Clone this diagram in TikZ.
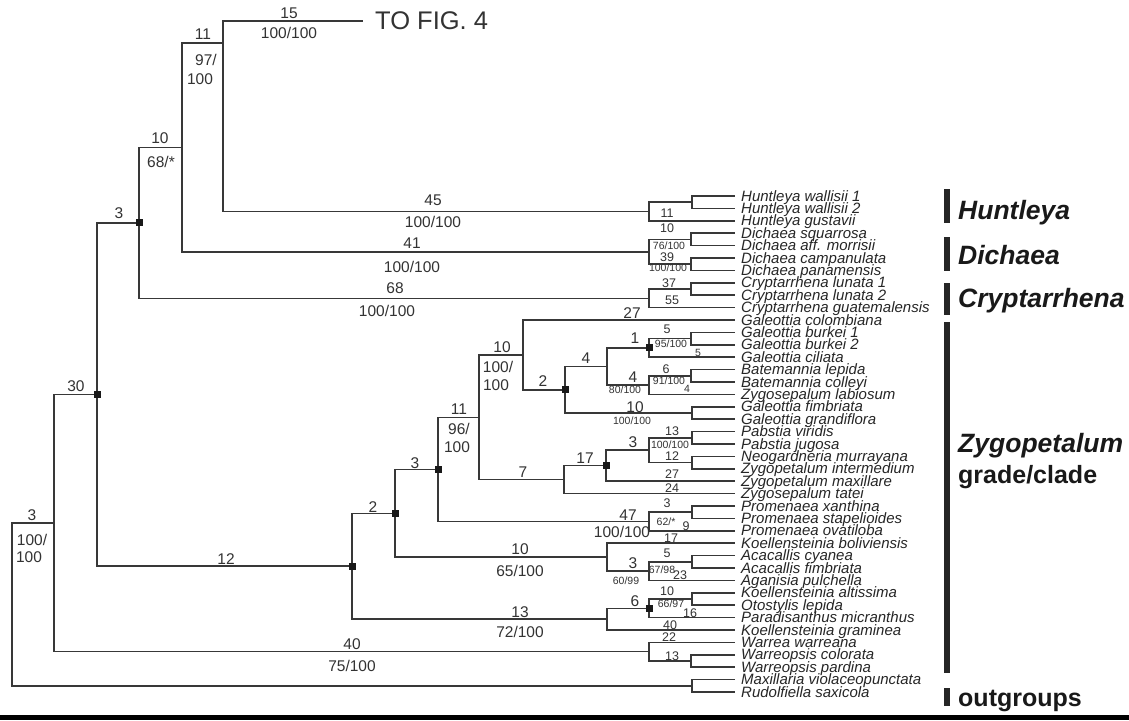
\documentclass[tikz,border=0pt]{standalone}
\usepackage{fontspec}
\setmainfont{Liberation Sans}
\usetikzlibrary{calc}
\tikzset{
  br/.style={line width=1.5pt, draw=black!78},
  tx/.style={font=\fontsize{15}{15}\selectfont\itshape, text=black!85, anchor=base west, inner sep=0pt},
  lb/.style={font=\fontsize{15.5}{15.5}\selectfont, text=black!80, inner sep=0pt},
  lm/.style={font=\fontsize{12.5}{12.5}\selectfont, text=black!80, inner sep=0pt},
  ls/.style={font=\fontsize{10.5}{10.5}\selectfont, text=black!80, inner sep=0pt},
  sq/.style={fill=black!90, minimum size=7pt, inner sep=0pt},
  grpi/.style={font=\fontsize{26.5}{26.5}\selectfont\bfseries\itshape, text=black!90, anchor=base west, inner sep=0pt},
  grpu/.style={font=\fontsize{25}{25}\selectfont\bfseries, text=black!90, anchor=base west, inner sep=0pt},
  barfill/.style={fill=black!85},
}
\begin{document}
\begin{tikzpicture}[x=1pt,y=-1pt]
\useasboundingbox (0,0) rectangle (1129,720);
\fill[white] (0,0) rectangle (1129,720);

% taxa
\foreach \i/\nm in {1/Huntleya wallisii 1,2/Huntleya wallisii 2,3/Huntleya gustavii,4/Dichaea squarrosa,5/Dichaea aff. morrisii,6/Dichaea campanulata,7/Dichaea panamensis,8/Cryptarrhena lunata 1,9/Cryptarrhena lunata 2,10/Cryptarrhena guatemalensis,11/Galeottia colombiana,12/Galeottia burkei 1,13/Galeottia burkei 2,14/Galeottia ciliata,15/Batemannia lepida,16/Batemannia colleyi,17/Zygosepalum labiosum,18/Galeottia fimbriata,19/Galeottia grandiflora,20/Pabstia viridis,21/Pabstia jugosa,22/Neogardneria murrayana,23/Zygopetalum intermedium,24/Zygopetalum maxillare,25/Zygosepalum tatei,26/Promenaea xanthina,27/Promenaea stapelioides,28/Promenaea ovatiloba,29/Koellensteinia boliviensis,30/Acacallis cyanea,31/Acacallis fimbriata,32/Aganisia pulchella,33/Koellensteinia altissima,34/Otostylis lepida,35/Paradisanthus micranthus,36/Koellensteinia graminea,37/Warrea warreana,38/Warreopsis colorata,39/Warreopsis pardina,40/Maxillaria violaceopunctata,41/Rudolfiella saxicola}{
  \pgfmathsetmacro\yy{196+12.4*(\i-1)}
  \coordinate (t\i) at (735,\yy);
  \node[tx] (T\i) at (741,\yy+5) {\nm};
}

% internal nodes
\coordinate (hA) at (692,202.2);
\coordinate (hB) at (649,211.5);
\coordinate (dA) at (691,239.4);
\coordinate (dB) at (691,264.2);
\coordinate (dC) at (649,251.8);
\coordinate (cA) at (691,289.0);
\coordinate (cB) at (649,298.3);
\coordinate (gA) at (691,338.6);
\coordinate (gB) at (649,347.9);
\coordinate (bA) at (691,375.8);
\coordinate (bB) at (649,385.1);
\coordinate (gbC) at (607,366.5);
\coordinate (fA) at (692,413.0);
\coordinate (n565) at (565,389.75);
\coordinate (n523) at (523,354.9);
\coordinate (pA) at (692,437.8);
\coordinate (pB) at (692,462.6);
\coordinate (pC) at (649,450.2);
\coordinate (n606) at (606,465.7);
\coordinate (n564) at (564,479.65);
\coordinate (n479) at (479,417.3);
\coordinate (prA) at (692,512.2);
\coordinate (prB) at (649,521.5);
\coordinate (n438) at (438,469.4);
\coordinate (aA) at (692,561.8);
\coordinate (aB) at (649,571.1);
\coordinate (aC) at (607,557.15);
\coordinate (n395) at (395,513.3);
\coordinate (oA) at (692,599.0);
\coordinate (oB) at (649,608.3);
\coordinate (oC) at (607,619.15);
\coordinate (n352) at (352,566.2);
\coordinate (fig) at (363,21);
\coordinate (n223) at (223,43);
\coordinate (n182) at (182,147.4);
\coordinate (n139) at (139,222.9);
\coordinate (n97) at (97,394.5);
\coordinate (wA) at (691,661.0);
\coordinate (wB) at (649,651.7);
\coordinate (n54) at (54,523.1);
\coordinate (ogA) at (692,685.8);
\coordinate (root) at (12,604.5);

% branches
\begin{scope}[br]
\draw (hA) |- (t1); \draw (hA) |- (t2);
\draw (hB) |- (hA); \draw (hB) |- (t3);
\draw (dA) |- (t4); \draw (dA) |- (t5);
\draw (dB) |- (t6); \draw (dB) |- (t7);
\draw (dC) |- (dA); \draw (dC) |- (dB);
\draw (cA) |- (t8); \draw (cA) |- (t9);
\draw (cB) |- (cA); \draw (cB) |- (t10);
\draw (gA) |- (t12); \draw (gA) |- (t13);
\draw (gB) |- (gA); \draw (gB) |- (t14);
\draw (bA) |- (t15); \draw (bA) |- (t16);
\draw (bB) |- (bA); \draw (bB) |- (t17);
\draw (gbC) |- (gB); \draw (gbC) |- (bB);
\draw (fA) |- (t18); \draw (fA) |- (t19);
\draw (n565) |- (gbC); \draw (n565) |- (fA);
\draw (n523) |- (t11); \draw (n523) |- (n565);
\draw (pA) |- (t20); \draw (pA) |- (t21);
\draw (pB) |- (t22); \draw (pB) |- (t23);
\draw (pC) |- (pA); \draw (pC) |- (pB);
\draw (n606) |- (pC); \draw (n606) |- (t24);
\draw (n564) |- (n606); \draw (n564) |- (t25);
\draw (n479) |- (n523); \draw (n479) |- (n564);
\draw (prA) |- (t26); \draw (prA) |- (t27);
\draw (prB) |- (prA); \draw (prB) |- (t28);
\draw (n438) |- (n479); \draw (n438) |- (prB);
\draw (aA) |- (t30); \draw (aA) |- (t31);
\draw (aB) |- (aA); \draw (aB) |- (t32);
\draw (aC) |- (t29); \draw (aC) |- (aB);
\draw (n395) |- (n438); \draw (n395) |- (aC);
\draw (oA) |- (t33); \draw (oA) |- (t34);
\draw (oB) |- (oA); \draw (oB) |- (t35);
\draw (oC) |- (oB); \draw (oC) |- (t36);
\draw (n352) |- (n395); \draw (n352) |- (oC);
\draw (n223) |- (fig); \draw (n223) |- (hB);
\draw (n182) |- (n223); \draw (n182) |- (dC);
\draw (n139) |- (n182); \draw (n139) |- (cB);
\draw (n97) |- (n139); \draw (n97) |- (n352);
\draw (wA) |- (t38); \draw (wA) |- (t39);
\draw (wB) |- (t37); \draw (wB) |- (wA);
\draw (n54) |- (n97); \draw (n54) |- (wB);
\draw (ogA) |- (t40); \draw (ogA) |- (t41);
\draw (root) |- (n54); \draw (root) |- (ogA);
\end{scope}

% node squares
\node[sq] (s1) at (n139) {};
\node[sq] (s2) at (n97) {};
\node[sq] (s3) at (n352) {};
\node[sq] (s4) at (n395) {};
\node[sq] (s5) at (n438) {};
\node[sq] (s6) at (n565) {};
\node[sq] (s7) at (gB) {};
\node[sq] (s8) at (n606) {};
\node[sq] (s9) at (oB) {};

% TO FIG. 4
\node[font=\fontsize{25.5}{25.5}\selectfont, text=black!80, anchor=west, inner sep=0pt] (fig4) at (375,21) {TO FIG. 4};

% big labels
\node[lb] (L1) at (289,13) {15};
\node[lb] (L2) at (289,33) {100/100};
\node[lb] (L3) at (203,34) {11};
\node[lb] (L4) at (206,60) {97/};
\node[lb] (L5) at (200,79) {100};
\node[lb] (L6) at (160,138) {10};
\node[lb] (L7) at (161,162) {68/*};
\node[lb] (L8) at (119,213) {3};
\node[lb] (L9) at (433,200) {45};
\node[lb] (L10) at (433,222) {100/100};
\node[lb] (L11) at (412,243) {41};
\node[lb] (L12) at (412,267) {100/100};
\node[lb] (L13) at (395,288) {68};
\node[lb] (L14) at (387,311) {100/100};
\node[lb] (L15) at (76,386) {30};
\node[lb] (L16) at (32,515) {3};
\node[lb] (L17) at (32,540) {100/};
\node[lb] (L18) at (29,557) {100};
\node[lb] (L19) at (226,559) {12};
\node[lb] (L20) at (352,644) {40};
\node[lb] (L21) at (352,666) {75/100};
\node[lb] (L22) at (632,313) {27};
\node[lb] (L23) at (502,347) {10};
\node[lb] (L24) at (498,367) {100/};
\node[lb] (L25) at (496,385) {100};
\node[lb] (L26) at (543,381) {2};
\node[lb] (L27) at (586,358) {4};
\node[lb] (L28) at (635,338) {1};
\node[lb] (L29) at (633,377) {4};
\node[lb] (L30) at (635,407) {10};
\node[lb] (L31) at (459,409) {11};
\node[lb] (L32) at (459,429) {96/};
\node[lb] (L33) at (457,447) {100};
\node[lb] (L34) at (633,442) {3};
\node[lb] (L35) at (585,458) {17};
\node[lb] (L36) at (523,472) {7};
\node[lb] (L37) at (415,463) {3};
\node[lb] (L38) at (373,507) {2};
\node[lb] (L39) at (628,515) {47};
\node[lb] (L40) at (622,532) {100/100};
\node[lb] (L41) at (520,549) {10};
\node[lb] (L42) at (520,571) {65/100};
\node[lb] (L43) at (633,563) {3};
\node[lb] (L44) at (635,601) {6};
\node[lb] (L45) at (520,612) {13};
\node[lb] (L46) at (520,632) {72/100};

% medium labels
\node[lm] (M1) at (667,213) {11};
\node[lm] (M2) at (667,228) {10};
\node[lm] (M3) at (667,257) {39};
\node[lm] (M4) at (669,283) {37};
\node[lm] (M5) at (672,300) {55};
\node[lm] (M6) at (667,329) {5};
\node[lm] (M7) at (666,369) {6};
\node[lm] (M8) at (672,431) {13};
\node[lm] (M9) at (672,456) {12};
\node[lm] (M10) at (672,474) {27};
\node[lm] (M11) at (672,488) {24};
\node[lm] (M12) at (667,503) {3};
\node[lm] (M13) at (686,526) {9};
\node[lm] (M14) at (671,538) {17};
\node[lm] (M15) at (667,553) {5};
\node[lm] (M16) at (680,575) {23};
\node[lm] (M17) at (667,591) {10};
\node[lm] (M18) at (690,613) {16};
\node[lm] (M19) at (670,625) {40};
\node[lm] (M20) at (669,637) {22};
\node[lm] (M21) at (672,656) {13};

% small labels
\node[ls] (S1) at (669,246) {76/100};
\node[ls] (S2) at (668,268) {100/100};
\node[ls] (S3) at (671,344) {95/100};
\node[ls] (S4) at (698,353) {5};
\node[ls] (S5) at (669,381) {91/100};
\node[ls] (S6) at (687,389) {4};
\node[ls] (S7) at (625,390) {80/100};
\node[ls] (S8) at (632,421) {100/100};
\node[ls] (S9) at (670,445) {100/100};
\node[ls] (S10) at (666,522) {62/*};
\node[ls] (S11) at (662,570) {67/98};
\node[ls] (S12) at (626,581) {60/99};
\node[ls] (S13) at (671,604) {66/97};

% group bars and labels
\fill[barfill] (944,189) rectangle (950,223);
\fill[barfill] (944,237) rectangle (950,271);
\fill[barfill] (944,283) rectangle (950,315);
\fill[barfill] (944,322) rectangle (950,673);
\fill[barfill] (944,688) rectangle (950,706);
\node[grpi] (G1) at (958,219) {Huntleya};
\node[grpi] (G2) at (958,264) {Dichaea};
\node[grpi] (G3) at (958,307) {Cryptarrhena};
\node[grpi] (G4) at (958,452) {Zygopetalum};
\node[grpu] (G5) at (958,483) {grade/clade};
\node[grpu] (G6) at (958,706) {outgroups};

% bottom rule
\fill[black] (0,714.5) rectangle (1129,720);
\end{tikzpicture}
\end{document}
